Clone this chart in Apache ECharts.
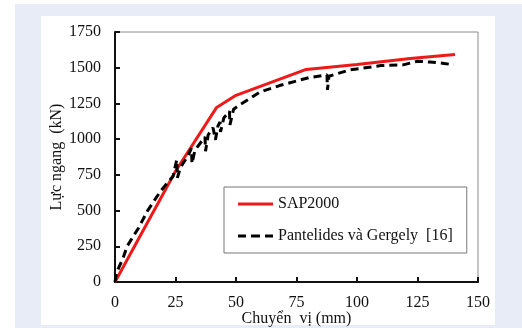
<!DOCTYPE html>
<html>
<head>
<meta charset="utf-8">
<script src="https://cdn.jsdelivr.net/npm/echarts@6/dist/echarts.min.js"></script>
<style>
html,body{margin:0;padding:0;background:#fff;}
#c{width:522px;height:328px;}
</style>
</head>
<body>
<div id="c"></div>
<script>
// SAP2000 curve: [displacement mm, force kN]
const sapX = [0, 25, 42, 50, 79, 100, 122, 140.5];
const sapY = [0, 775, 1222, 1307, 1488, 1522, 1565, 1592];
// Pantelides và Gergely [16] experimental envelope
const expX = [0, 0.6, 3.4, 5, 9.6, 13.5, 19, 24, 25.5, 25.8, 27, 30, 31.6, 31.8, 33, 36, 37.2, 37.4, 38.5, 40.5, 41.3, 41.5, 42.5, 43.4, 43.6, 45, 47.3, 47.5, 49, 52, 60, 68, 80, 87.6, 87.8, 88.4, 97, 110, 119, 125, 130, 136, 140];
const expY = [0, 63, 170, 250, 375, 500, 640, 740, 855, 730, 800, 880, 935, 830, 920, 990, 1015, 915, 1030, 1080, 1090, 995, 1090, 1120, 1050, 1150, 1195, 1100, 1210, 1245, 1330, 1375, 1430, 1450, 1345, 1440, 1485, 1515, 1520, 1545, 1540, 1530, 1520];
const xTicks = [0, 150, 25];
const yTicks = [0, 1750, 250];
const seriesNames = ['SAP2000', 'Pantelides và Gergely  [16]'];
const xName = 'Chuyển  vị (mm)';
const yName = 'Lực ngang  (kN)';

const zip = (a, b) => a.map((v, i) => [v, b[i]]);
const font = '"Liberation Serif", "Times New Roman", serif';
const txt = '#111';

const chart = echarts.init(document.getElementById('c'), null, {renderer: 'canvas'});
chart.setOption({
  animation: false,
  backgroundColor: '#ffffff',
  graphic: [
    {type: 'rect', z: -10, shape: {x: 15, y: 4, width: 507, height: 324}, style: {fill: '#e7ecf6'}},
    {type: 'rect', z: -9, shape: {x: 41, y: 16, width: 454, height: 309}, style: {fill: '#ffffff'}}
  ],
  grid: {left: 115, right: 44, top: 32, bottom: 46, outerBoundsMode: 'none', containLabel: false,
         show: true, borderColor: '#8c8c8c', borderWidth: 1, backgroundColor: 'transparent'},
  xAxis: {
    type: 'value', min: xTicks[0], max: xTicks[1], interval: xTicks[2],
    name: xName, nameLocation: 'middle', nameGap: 29, nameMoveOverlap: false,
    nameTextStyle: {fontFamily: font, fontSize: 16, color: txt},
    axisLine: {show: true, lineStyle: {color: '#111', width: 2}},
    axisTick: {show: true, inside: true, length: 5, lineStyle: {color: '#111', width: 2}},
    axisLabel: {fontFamily: font, fontSize: 16, color: txt, margin: 13, formatter: v => String(v)},
    splitLine: {show: false}
  },
  yAxis: {
    type: 'value', min: yTicks[0], max: yTicks[1], interval: yTicks[2],
    name: yName, nameLocation: 'middle', nameGap: 50, nameMoveOverlap: false,
    nameTextStyle: {fontFamily: font, fontSize: 16, color: txt},
    axisLine: {show: true, lineStyle: {color: '#111', width: 2}},
    axisTick: {show: true, inside: true, length: 5, lineStyle: {color: '#111', width: 2}},
    axisLabel: {fontFamily: font, fontSize: 16, color: txt, margin: 14, formatter: v => String(v)},
    splitLine: {show: false}
  },
  legend: {
    orient: 'vertical', left: 224, top: 187,
    padding: [9, 14, 9, 14],
    itemGap: 16, itemWidth: 35, itemHeight: 3,
    backgroundColor: '#fff', borderColor: '#777', borderWidth: 1,
    textStyle: {fontFamily: font, fontSize: 16, color: txt, lineHeight: 16},
    data: [
      {name: seriesNames[0], icon: 'path://M0,0h35v3h-35z'},
      {name: seriesNames[1], icon: 'path://M0,0h8v3h-8zM13,0h9v3h-9zM27,0h8v3h-8z'}
    ]
  },
  series: [
    {
      name: seriesNames[0], type: 'line', symbol: 'none',
      data: zip(sapX, sapY),
      lineStyle: {color: '#ee1a1a', width: 3},
      itemStyle: {color: '#ee1a1a'}, z: 3
    },
    {
      name: seriesNames[1], type: 'line', symbol: 'none',
      data: zip(expX, expY),
      lineStyle: {color: '#000', width: 3, type: [8, 5]},
      itemStyle: {color: '#000'}, z: 4
    }
  ]
});
</script>
</body>
</html>
